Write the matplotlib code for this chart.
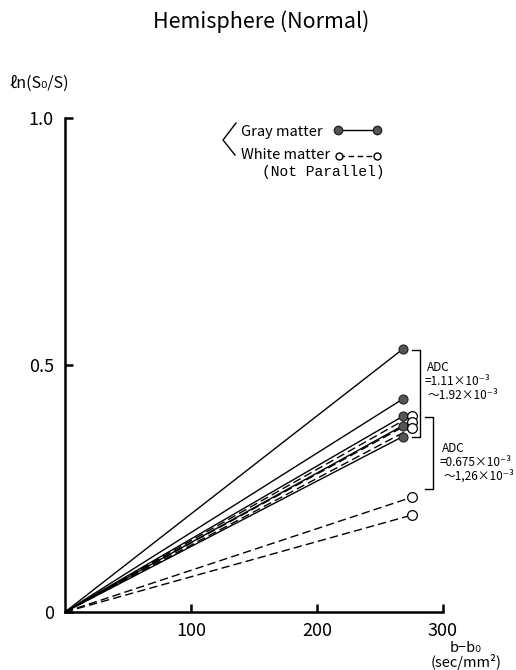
import matplotlib
matplotlib.use("Agg")
import matplotlib.pyplot as plt
from matplotlib.lines import Line2D

plt.rcParams['font.family'] = ['Noto Sans CJK JP', 'DejaVu Sans']

# Data
gray_b = [268, 268, 268, 268, 268]
gray_ln = [0.532, 0.431, 0.396, 0.377, 0.355]
white_b = [275, 275, 275, 275, 275]
white_ln = [0.397, 0.384, 0.372, 0.232, 0.196]
x_ticks = [100, 200, 300]
y_ticks = [0, 0.5, 1.0]
y_ticklabels = ["0", "0.5", "1.0"]

W, H = 516, 670
fig = plt.figure(figsize=(W / 100, H / 100), dpi=100)
ax = fig.add_axes([65 / W, 1 - 612 / H, (443 - 65) / W, (612 - 118) / H])
ax.set_xlim(0, 300)
ax.set_ylim(0, 1.0)

for b, v in zip(gray_b, gray_ln):
    ax.plot([0, b], [0, v], color='black', lw=1.0, solid_capstyle='butt')
    ax.plot([b], [v], 'o', ms=6.5, mfc='#555555', mec='#222222', mew=0.8, clip_on=False, zorder=5)
for b, v in zip(white_b, white_ln):
    ax.plot([0, b], [0, v], color='black', lw=1.0, ls=(0, (6, 3)))
    ax.plot([b], [v], 'o', ms=7, mfc='white', mec='black', mew=0.9, clip_on=False, zorder=5)

for s in ['top', 'right']:
    ax.spines[s].set_visible(False)
for s in ['left', 'bottom']:
    ax.spines[s].set_linewidth(1.8)
ax.set_xticks(x_ticks)
ax.set_yticks(y_ticks)
ax.set_yticklabels(y_ticklabels)
ax.tick_params(direction='in', length=6, width=1.8, labelsize=13, pad=8)
ax.tick_params(axis='x', pad=7)

# Brackets (in data coords)
def bracket(x0, x1, y0, y1):
    ax.plot([x0, x1, x1, x0], [y0, y0, y1, y1], color='black', lw=1.0, clip_on=False)

bracket(275.5, 281.5, 0.530, 0.354)
bracket(285.5, 292.0, 0.395, 0.249)

fs_adc = 8.5
ax.text(287, 0.494, "ADC", fontsize=fs_adc, va='center', ha='left', clip_on=False)
ax.text(285.5, 0.467, "=1.11×10⁻³", fontsize=fs_adc, va='center', ha='left', clip_on=False)
ax.text(288, 0.439, "～1.92×10⁻³", fontsize=fs_adc, va='center', ha='left', clip_on=False)
ax.text(299.5, 0.330, "ADC", fontsize=fs_adc, va='center', ha='left', clip_on=False)
ax.text(297.5, 0.303, "=0.675×10⁻³", fontsize=fs_adc, va='center', ha='left', clip_on=False)
ax.text(300.5, 0.275, "～1,26×10⁻³", fontsize=fs_adc, va='center', ha='left', clip_on=False)

# Title and axis labels (figure pixel coords)
def fx(px):
    return px / W

def fy(py):
    return 1 - py / H

fig.text(fx(261), fy(22), "Hemisphere (Normal)", fontsize=15.5, ha='center', va='center')
fig.text(fx(10), fy(83), "ℓn(S₀/S)", fontsize=11.5, ha='left', va='center')
fig.text(fx(466), fy(648), "b−b₀", fontsize=10.5, ha='center', va='center')
fig.text(fx(466), fy(662), "(sec/mm²)", fontsize=10.5, ha='center', va='center')

# Legend
fig.add_artist(Line2D([fx(236), fx(223), fx(235)], [fy(123), fy(140), fy(155)],
                      color='black', lw=1.0, transform=fig.transFigure))
fig.text(fx(241), fy(132), "Gray matter", fontsize=10.5, ha='left', va='center')
fig.add_artist(Line2D([fx(338), fx(377)], [fy(130), fy(130)], color='black', lw=1.0,
                      marker='o', ms=6, mfc='#555555', mec='#222222', transform=fig.transFigure))
fig.text(fx(241), fy(155), "White matter", fontsize=10.5, ha='left', va='center')
fig.add_artist(Line2D([fx(339), fx(377)], [fy(156), fy(156)], color='black', lw=1.0,
                      ls=(0, (4, 2.5)), marker='o', ms=5, mfc='white', mec='black',
                      transform=fig.transFigure))
fig.text(fx(262), fy(172), "(Not Parallel)", fontsize=10.5, ha='left', va='center',
         family='Liberation Mono')

fig.savefig("out.png", dpi=100)
